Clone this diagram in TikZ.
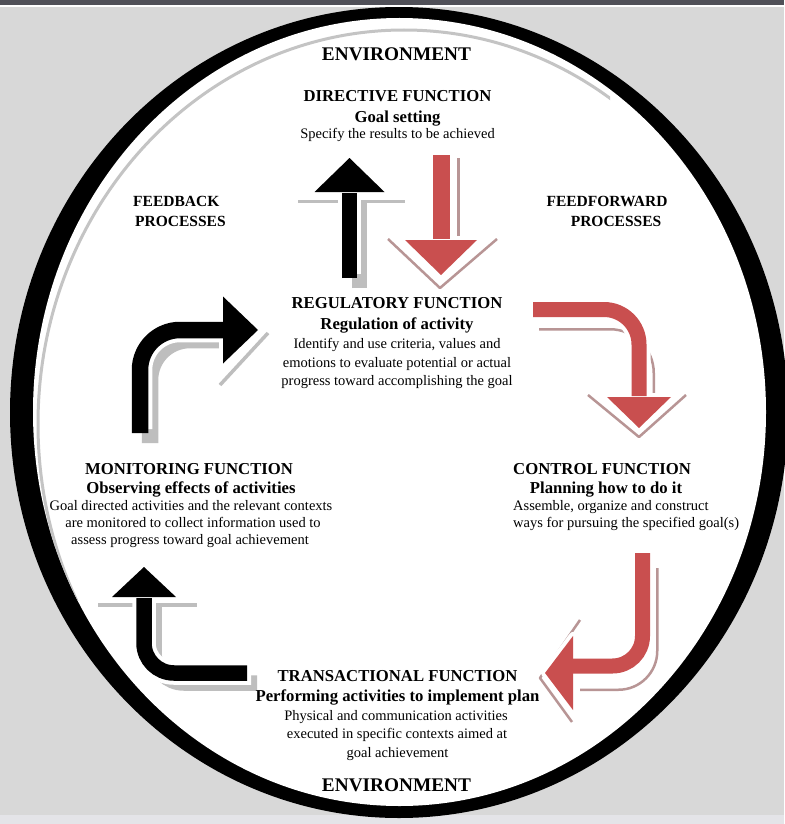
\documentclass[tikz,border=0pt]{standalone}
\usepackage{fontspec}
\setmainfont{Liberation Serif}
\definecolor{bgcol}{HTML}{D8D8D8}
\definecolor{barcol}{HTML}{505058}
\definecolor{lowband}{HTML}{E4E4E8}
\definecolor{ringgray}{HTML}{C4C4C4}
\definecolor{arrred}{HTML}{C94F4F}
\definecolor{shgray}{HTML}{BEBEBE}
\definecolor{shred}{HTML}{B89595}
\tikzset{
  ttl/.style={font=\fontsize{16.7}{19}\selectfont\bfseries, anchor=base, inner sep=0pt},
  ttlw/.style={ttl, anchor=base west},
  txt/.style={font=\fontsize{14.5}{17}\selectfont, anchor=base, inner sep=0pt},
  txtw/.style={txt, anchor=base west},
  envtxt/.style={font=\fontsize{19.3}{22}\selectfont\bfseries, anchor=base, inner sep=0pt},
  proc/.style={font=\fontsize{15.5}{18}\selectfont\bfseries, anchor=base west, inner sep=0pt},
  procc/.style={proc, anchor=base},
  bshadow/.style={shgray, line width=#1},
  hshadow/.style={shgray, line width=3.5pt},
  rshadow/.style={shred, line width=2.5pt},
  rhshadow/.style={shred, line width=2.5pt, line join=round},
  wborder/.style={white, line width=#1},
  whead/.style={draw=white, fill=white, line width=8pt, line join=round},
}
\begin{document}
\begin{tikzpicture}[x=1pt,y=-1pt]
\useasboundingbox (0,0) rectangle (784,824);
% background
\fill[bgcol] (0,0) rectangle (784,824);
\fill[lowband] (0,815) rectangle (784,824);
% ring
\fill[black] (399,412.5) ellipse [x radius=389pt, y radius=405.5pt];
\fill[white] (399.5,412) ellipse [x radius=366.5pt, y radius=394pt];
\begin{scope}
  \clip (399.5,412) ellipse [x radius=366.5pt, y radius=394pt];
  \clip (0,0) rectangle (610,600);
  \draw[ringgray, line width=3pt] (404,424) ellipse [x radius=366pt, y radius=394pt];
\end{scope}
\fill[barcol] (0,0) rectangle (784,5);
\fill[white] (0,5) rectangle (784,7);

% ---------- arrow end points ----------
\coordinate (Atail) at (349.5,278); \coordinate (Abase) at (349.5,192); \coordinate (Atip) at (349.5,158);
\coordinate (Btail) at (441,155);   \coordinate (Bbase) at (441,240);   \coordinate (Btip) at (441,275);
\coordinate (Ctail) at (533,309.5); \coordinate (Ccorner) at (639,309.5); \coordinate (Cbase) at (639,397); \coordinate (Ctip) at (639,428);
\coordinate (Dtail) at (140,433);   \coordinate (Dcorner) at (140,330); \coordinate (Dbase) at (223,330); \coordinate (Dtip) at (258,330);
\coordinate (Etail) at (247,673);   \coordinate (Ecorner) at (144,673); \coordinate (Ebase) at (144,597); \coordinate (Etip) at (144,567);
\coordinate (Ftail) at (642.5,553); \coordinate (Fcorner) at (642.5,666); \coordinate (Fbase) at (573,666); \coordinate (Ftip) at (545,673);

% ---------- shadows ----------
% A
\draw[bshadow=15pt] ([shift={(10,10)}]Atail) -- ([shift={(10,10)}]Abase);
\draw[hshadow] (298,201.5) -- (405,201.5);
% B
\draw[rshadow] ([shift={(17.5,3)}]Btail) -- ([shift={(17.5,-2)}]Bbase);
\draw[rhshadow] (388,239) -- (440,288) -- (497,239);
% C
\draw[rshadow, rounded corners=43.75pt] ([shift={(6,19.75)}]Ctail) -- ([shift={(14.75,19.75)}]Ccorner) -- ([shift={(14.75,0)}]Cbase);
\draw[rhshadow] (588,395) -- (639,437) -- (686,395);
% D
\draw[bshadow=16.5pt, rounded corners=40pt] ([shift={(10,10)}]Dtail) -- ([shift={(10,10)}]Dcorner) -- ([shift={(-1,10)}]Dbase);
\draw[hshadow] (220,385) -- (268,333);
% E
\draw[bshadow=15.5pt, rounded corners=30pt] ([shift={(10,10)}]Etail) -- ([shift={(10,10)}]Ecorner) -- ([shift={(10,8)}]Ebase);
\draw[hshadow] (98,605) -- (197,605);
% F
\draw[rshadow, rounded corners=38.75pt] ([shift={(14.75,15)}]Ftail) -- ([shift={(14.75,23.75)}]Fcorner) -- ([shift={(7,23.75)}]Fbase);
\draw[rhshadow] (580,620) -- (540,678) -- (572,722);

% ---------- white borders ----------
\draw[wborder=23pt] ([yshift=4]Atail) -- (Abase);
\filldraw[whead] (314.5,192) -- (Atip) -- (384.5,192) -- cycle;
\draw[wborder=25pt] ([yshift=-4]Btail) -- (Bbase);
\filldraw[whead] (405,240) -- (Btip) -- (477,240) -- cycle;
\draw[wborder=23pt, rounded corners=35pt] ([xshift=-4]Ctail) -- (Ccorner) -- (Cbase);
\filldraw[whead] (607,397) -- (Ctip) -- (671,397) -- cycle;
\draw[wborder=24.5pt, rounded corners=40pt] ([yshift=4]Dtail) -- (Dcorner) -- (Dbase);
\filldraw[whead] (223,296.5) -- (Dtip) -- (223,363.5) -- cycle;
\draw[wborder=23.5pt, rounded corners=30pt] ([xshift=4]Etail) -- (Ecorner) -- (Ebase);
\filldraw[whead] (112,597) -- (Etip) -- (176,597) -- cycle;
\draw[wborder=23pt, rounded corners=30pt] ([yshift=-4]Ftail) -- (Fcorner) -- (Fbase);
\filldraw[whead] (573,636) -- (Ftip) -- (573,710) -- cycle;

% ---------- arrow bodies ----------
\draw[black, line width=15pt] (Atail) -- ([yshift=-1]Abase);
\fill[black] (314.5,192) -- (Atip) -- (384.5,192) -- cycle;
\draw[arrred, line width=17pt] (Btail) -- ([yshift=1]Bbase);
\fill[arrred] (405,240) -- (Btip) -- (477,240) -- cycle;
\draw[arrred, line width=15pt, rounded corners=35pt] (Ctail) -- (Ccorner) -- ([yshift=1]Cbase);
\fill[arrred] (607,397) -- (Ctip) -- (671,397) -- cycle;
\draw[black, line width=16.5pt, rounded corners=40pt] (Dtail) -- (Dcorner) -- ([xshift=1]Dbase);
\fill[black] (223,296.5) -- (Dtip) -- (223,363.5) -- cycle;
\draw[black, line width=15.5pt, rounded corners=30pt] (Etail) -- (Ecorner) -- ([yshift=-1]Ebase);
\fill[black] (112,597) -- (Etip) -- (176,597) -- cycle;
\draw[arrred, line width=15pt, rounded corners=30pt] (Ftail) -- (Fcorner) -- ([xshift=-1]Fbase);
\fill[arrred] (573,636) -- (Ftip) -- (573,710) -- cycle;

% ---------- texts ----------
\node[envtxt] (envtop) at (396.5,61) {ENVIRONMENT};
\node[ttl] (dir1) at (397.5,102) {DIRECTIVE FUNCTION};
\node[ttl] (dir2) at (397.5,122) {Goal setting};
\node[txt] (dir3) at (397.5,139) {Specify the results to be achieved};

\node[proc] (fb1) at (133,206) {FEEDBACK};
\node[proc] (fb2) at (135,226) {PROCESSES};
\node[procc] (ff1) at (607,206) {FEEDFORWARD};
\node[procc] (ff2) at (616,226) {PROCESSES};

\node[ttl] (reg1) at (397,308) {REGULATORY FUNCTION};
\node[ttl] (reg2) at (397,329) {Regulation of activity};
\node[txt] (reg3) at (397,348) {Identify and use criteria, values and};
\node[txt] (reg4) at (397,367) {emotions to evaluate potential or actual};
\node[txt] (reg5) at (397,385) {progress toward accomplishing the goal};

\node[ttl] (mon1) at (189,474) {MONITORING FUNCTION};
\node[ttl] (mon2) at (191,493) {Observing effects of activities};
\node[txt] (mon3) at (191,510) {Goal directed activities and the relevant contexts};
\node[txt] (mon4) at (193,527) {are monitored to collect information used to};
\node[txt] (mon5) at (190,544) {assess progress toward goal achievement};

\node[ttlw] (con1) at (513,474) {CONTROL FUNCTION};
\node[ttl] (con2) at (606,493) {Planning how to do it};
\node[txtw] (con3) at (513,510) {Assemble, organize and construct};
\node[txtw] (con4) at (513,527) {ways for pursuing the specified goal(s)};

\node[ttl] (tra1) at (397.5,681) {TRANSACTIONAL FUNCTION};
\node[ttl] (tra2) at (397.5,701) {Performing activities to implement plan};
\node[txt] (tra3) at (396,720) {Physical and communication activities};
\node[txt] (tra4) at (397,738) {executed in specific contexts aimed at};
\node[txt] (tra5) at (397.5,757) {goal achievement};

\node[envtxt] (envbot) at (396.5,791) {ENVIRONMENT};
\end{tikzpicture}
\end{document}
